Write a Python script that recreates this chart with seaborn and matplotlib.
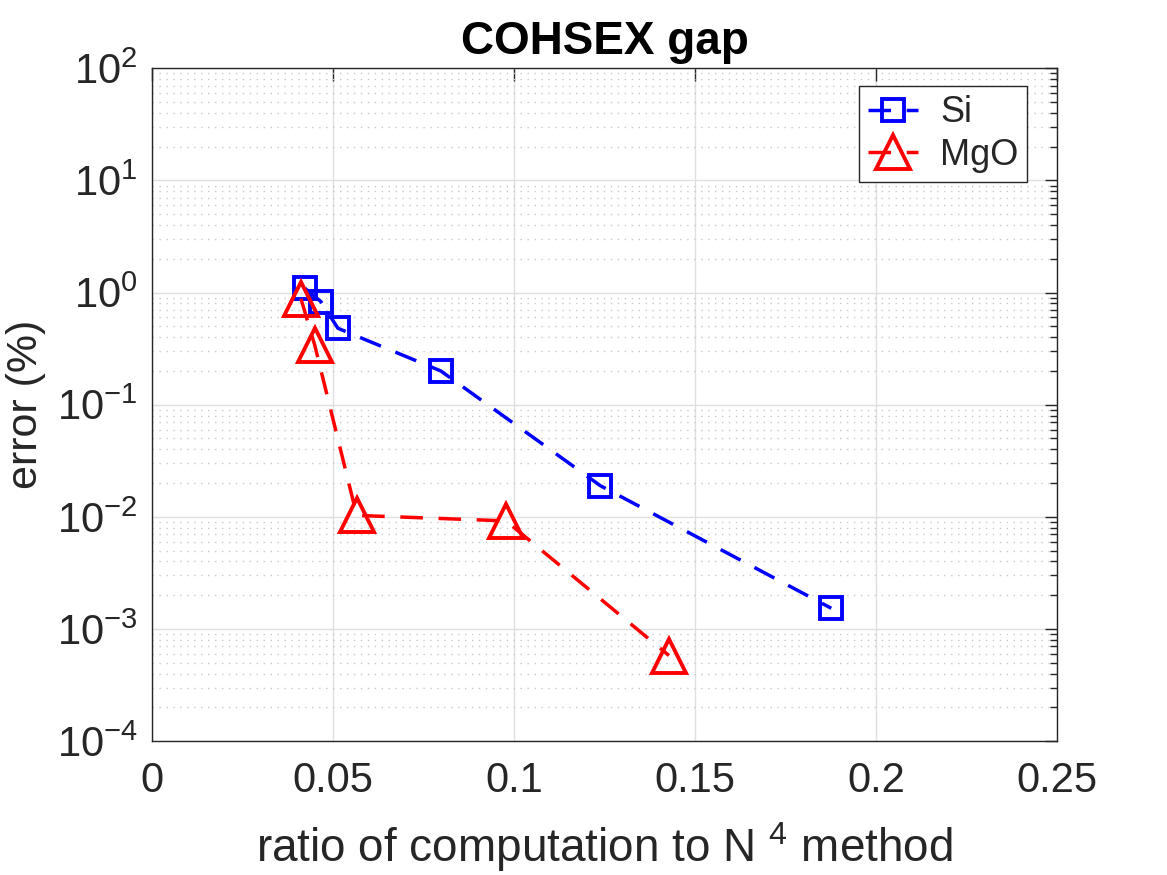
import matplotlib
matplotlib.use("Agg")
import matplotlib.pyplot as plt
import seaborn as sns
import numpy as np

# values
si_ratio = [0.0423, 0.0467, 0.0514, 0.0798, 0.1238, 0.1876]
si_error = [1.09, 0.83, 0.48, 0.20, 0.019, 0.00153]

mgo_ratio = [0.0412, 0.0450, 0.0566, 0.0978, 0.1428]
mgo_error = [0.88, 0.34, 0.0103, 0.0092, 0.00058]

x_ticks = [0, 0.05, 0.1, 0.15, 0.2, 0.25]
x_tick_labels = ["0", "0.05", "0.1", "0.15", "0.2", "0.25"]

sns.set_style("white")
plt.rcParams["font.family"] = ["Liberation Sans", "DejaVu Sans"]
plt.rcParams["mathtext.fontset"] = "custom"
plt.rcParams["mathtext.rm"] = "Liberation Sans"

fig = plt.figure(figsize=(11.67, 8.75), dpi=100)
ax = fig.add_axes([0.130, 0.153, 0.776, 0.769])

dash = (0, (6.5, 4.5))
sns.lineplot(x=si_ratio, y=si_error, ax=ax, sort=False, label="Si",
             color="#0000ff", linestyle=dash, linewidth=2.5,
             marker="s", markersize=16, markerfacecolor="none",
             markeredgecolor="#0000ff", markeredgewidth=2.8)
sns.lineplot(x=mgo_ratio, y=mgo_error, ax=ax, sort=False, label="MgO",
             color="#ff0000", linestyle=dash, linewidth=2.5,
             marker="^", markersize=25, markerfacecolor="none",
             markeredgecolor="#ff0000", markeredgewidth=2.8)

ax.set_yscale("log")
ax.set_xlim(0, 0.25)
ax.set_ylim(1e-4, 1e2)
ax.set_xticks(x_ticks)
ax.set_xticklabels(x_tick_labels)
ax.set_yticks([1e-4, 1e-3, 1e-2, 1e-1, 1e0, 1e1, 1e2])

ax.grid(True, which="major", color="#e0e0e0", linewidth=1.0, linestyle="-")
ax.grid(True, which="minor", axis="y", color="#c8c8c8", linewidth=1.0,
        linestyle=(0, (1, 4)))
ax.set_axisbelow(True)

ax.tick_params(which="both", direction="in", top=True, right=True,
               colors="#262626", labelsize=30)
ax.tick_params(axis="x", pad=14)
ax.tick_params(axis="y", pad=10)
ax.tick_params(which="major", length=9, width=1.0)
ax.tick_params(which="minor", length=5, width=1.0)
ax.tick_params(axis="x", which="minor", bottom=False, top=False)
for sp in ax.spines.values():
    sp.set_color("#262626")
    sp.set_linewidth(1.0)

ax.set_xlabel(r"ratio of computation to N $^{4}$ method", fontsize=33,
              color="#262626", labelpad=14)
ax.set_ylabel("error (%)", fontsize=31, color="#262626", labelpad=8)
ax.set_title("COHSEX gap", fontsize=33, fontweight="bold", color="black",
             pad=10)

leg = ax.legend(loc="upper right", bbox_to_anchor=(0.967, 0.973), fontsize=26,
                frameon=True, fancybox=False, edgecolor="#262626",
                framealpha=1, borderaxespad=0.0, handlelength=1.4,
                handletextpad=0.6, borderpad=0.25, labelspacing=0.2)
leg.get_frame().set_linewidth(1.0)

fig.savefig("out.png", dpi=100)
